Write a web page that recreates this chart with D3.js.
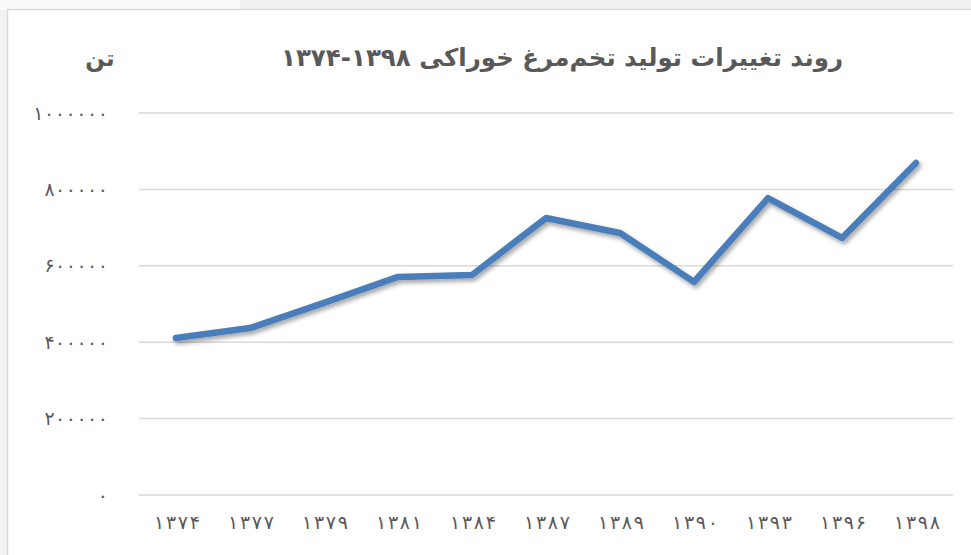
<!DOCTYPE html>
<html>
<head>
<meta charset="utf-8">
<script src="https://cdn.jsdelivr.net/npm/d3@7"></script>
<style>
  html, body { margin: 0; padding: 0; background: #f3f3f3; }
  svg { display: block; }
  text { font-family: "DejaVu Sans", sans-serif; fill: #595959; }
</style>
</head>
<body>
<svg id="chart" width="971" height="555"></svg>
<script>
// years (Persian calendar) and production in tonnes
const years = ["۱۳۷۴", "۱۳۷۷", "۱۳۷۹", "۱۳۸۱", "۱۳۸۴", "۱۳۸۷", "۱۳۸۹", "۱۳۹۰", "۱۳۹۳", "۱۳۹۶", "۱۳۹۸"];
const production = [411000, 437000, 503000, 571000, 576000, 725000, 686000, 558000, 777000, 673000, 869000];
const yTicks = [0, 200000, 400000, 600000, 800000, 1000000];
const titleText = "روند تغییرات تولید تخم‌مرغ خوراکی  ۱۳۹۸-۱۳۷۴";
const unitText = "تن";

const toFa = n => String(n).replace(/\d/g, d => "۰۱۲۳۴۵۶۷۸۹"[d]);

const svg = d3.select("#chart");
const width = 971, height = 555;

// top shadow band + chart frame
svg.append("rect").attr("x", 0).attr("y", 0).attr("width", width).attr("height", 10).attr("fill", "#fafafa");
svg.append("rect").attr("x", 240).attr("y", 0).attr("width", 1030).attr("height", 9).attr("fill", "#f1f1f1");
svg.append("rect")
    .attr("x", 7.5).attr("y", 9.5)
    .attr("width", width).attr("height", height)
    .attr("fill", "#fff")
    .attr("stroke", "#d9d9d9")
    .attr("stroke-width", 1.5);

const margin = { left: 139, right: 18, top: 113, bottom: 60 };

const x = d3.scaleBand()
    .domain(years)
    .range([margin.left, width - margin.right]);

const y = d3.scaleLinear()
    .domain([0, 1000000])
    .range([height - margin.bottom, margin.top]);

// gridlines
svg.append("g")
    .selectAll("line")
    .data(yTicks)
    .join("line")
    .attr("x1", margin.left)
    .attr("x2", width - margin.right)
    .attr("y1", d => y(d))
    .attr("y2", d => y(d))
    .attr("stroke", "#d9d9d9")
    .attr("stroke-width", 1.5);

// y labels - letter-spacing is ignored for arabic digits, so stretch with textLength
const yAxis = d3.axisLeft(y).tickValues(yTicks).tickFormat(toFa).tickSize(0).tickPadding(0);
const gy = svg.append("g")
    .attr("transform", "translate(108,0)")
    .call(yAxis);
gy.select(".domain").remove();
gy.selectAll("text")
    .attr("font-size", 19)
    .attr("fill", "#595959")
    .attr("font-family", "DejaVu Sans, sans-serif")
    .attr("direction", "ltr")
    .filter(d => d > 0)
    .attr("textLength", d => String(d).length * 11.1 - 3)
    .attr("lengthAdjust", "spacing");

// x labels
const xAxis = d3.axisBottom(x).tickSize(0).tickPadding(0);
const gx = svg.append("g")
    .attr("transform", `translate(1,${height - margin.bottom + 20})`)
    .call(xAxis);
gx.select(".domain").remove();
gx.selectAll("text")
    .attr("font-size", 19)
    .attr("fill", "#595959")
    .attr("font-family", "DejaVu Sans, sans-serif")
    .attr("direction", "ltr")
    .attr("textLength", 46)
    .attr("lengthAdjust", "spacing");

// drop shadow for the line
const defs = svg.append("defs");
const f = defs.append("filter").attr("id", "shadow").attr("x", "-10%").attr("y", "-20%").attr("width", "120%").attr("height", "140%");
f.append("feDropShadow")
    .attr("dx", 2).attr("dy", 3)
    .attr("stdDeviation", 2)
    .attr("flood-color", "#000")
    .attr("flood-opacity", 0.35);

const line = d3.line()
    .x((d, i) => x(years[i]) + x.bandwidth() / 2)
    .y(d => y(d));

svg.append("path")
    .datum(production)
    .attr("d", line)
    .attr("fill", "none")
    .attr("stroke", "#4a7ebb")
    .attr("stroke-width", 6.5)
    .attr("stroke-linejoin", "round")
    .attr("stroke-linecap", "round")
    .attr("filter", "url(#shadow)");

// title and unit
svg.append("text")
    .attr("x", 562)
    .attr("y", 66)
    .attr("text-anchor", "middle")
    .attr("font-size", 24.5)
    .attr("font-weight", "bold")
    .attr("direction", "rtl")
    .text(titleText);

svg.append("text")
    .attr("x", 100)
    .attr("y", 66)
    .attr("text-anchor", "middle")
    .attr("font-size", 23)
    .attr("font-weight", "bold")
    .attr("direction", "rtl")
    .text(unitText);
</script>
</body>
</html>
